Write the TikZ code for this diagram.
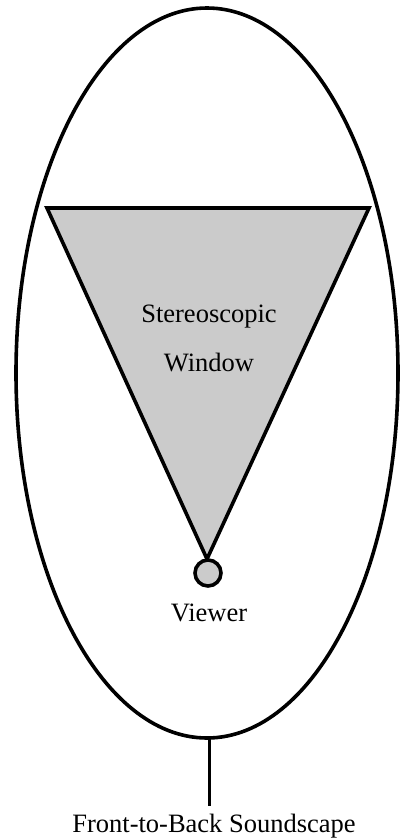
\documentclass[tikz,border=0pt]{standalone}
\usepackage{fontspec}
\setmainfont{Liberation Serif}
\definecolor{winfill}{HTML}{CBCBCB}
\begin{document}
\begin{tikzpicture}[x=1pt,y=-1pt,
  outline/.style={draw=black,line width=3.6pt},
  lbl/.style={font=\fontsize{26.5}{26.5}\selectfont,inner sep=0pt}]
\useasboundingbox (0,0) rectangle (401,839);
\draw[outline] (207,373) ellipse [x radius=191,y radius=365];
\coordinate (tl) at (47,208);
\coordinate (tr) at (369,208);
\coordinate (apex) at (207,559);
\draw[outline,fill=winfill,line join=miter] (tl) -- (tr) -- (apex) -- cycle;
\node[outline,fill=winfill,circle,minimum size=26pt,inner sep=0pt] (viewer) at (208,573) {};
\node[lbl] (stereo) at (209,317) {Stereoscopic};
\node[lbl] (window) at (209,363) {Window};
\node[lbl] (vlabel) at (209,613) {Viewer};
\coordinate (ebot) at (209,738);
\coordinate (lend) at (209,806);
\draw[line width=3pt] (ebot) -- (lend);
\node[lbl] (sound) at (214,826) {Front-to-Back Soundscape};
\end{tikzpicture}
\end{document}
